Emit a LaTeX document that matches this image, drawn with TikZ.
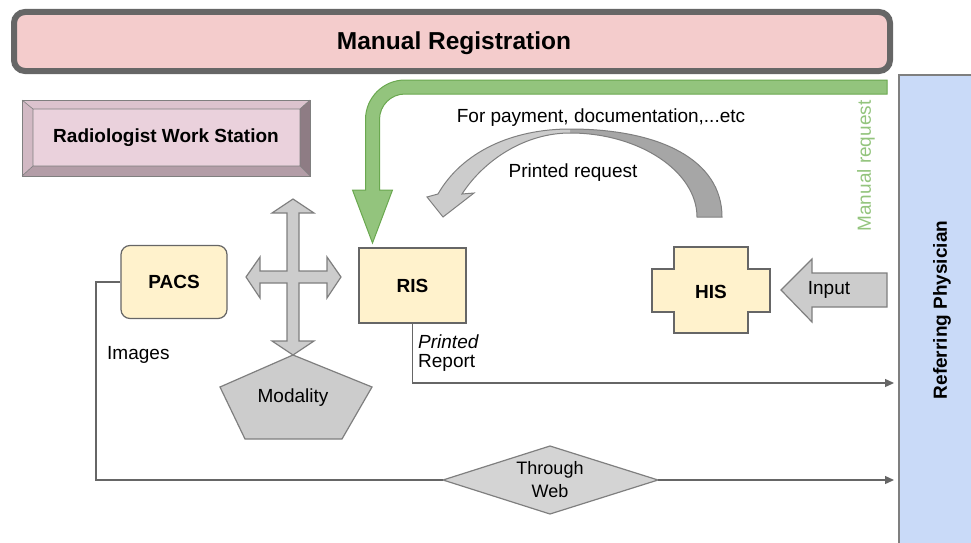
\documentclass[tikz,border=0pt]{standalone}
\usepackage{fontspec}
\setmainfont{Liberation Sans}
\usetikzlibrary{arrows.meta}
\definecolor{regfill}{HTML}{F4CCCC}
\definecolor{regdraw}{HTML}{666666}
\definecolor{yellowbox}{HTML}{FFF2CC}
\definecolor{boxline}{HTML}{666666}
\definecolor{greyfill}{HTML}{CCCCCC}
\definecolor{greydark}{HTML}{A6A6A6}
\definecolor{greyline}{HTML}{7F7F7F}
\definecolor{pinkin}{HTML}{EAD1DC}
\definecolor{pinktop}{HTML}{DCC3CE}
\definecolor{pinkleft}{HTML}{D2B9C4}
\definecolor{pinkright}{HTML}{8E7C84}
\definecolor{pinkbottom}{HTML}{B39DA7}
\definecolor{bluefill}{HTML}{C9DAF8}
\definecolor{greenfill}{HTML}{93C47D}
\definecolor{greendraw}{HTML}{6AA84F}
\definecolor{lineclr}{HTML}{666666}
\tikzset{
  lbl/.style={font=\fontsize{19}{22}\selectfont, inner sep=0pt},
  blbl/.style={font=\fontsize{19}{22}\selectfont\bfseries, inner sep=0pt},
  ybox/.style={fill=yellowbox, draw=boxline, line width=1.2pt},
  gshape/.style={fill=greyfill, draw=greyline, line width=1.2pt},
  conn/.style={draw=lineclr, line width=1.3pt, -{Triangle[length=9pt,width=8pt]}},
  plainline/.style={draw=lineclr, line width=1.3pt}
}
\begin{document}
\begin{tikzpicture}[x=1pt,y=-1pt]
\useasboundingbox (0,0) rectangle (971,543);
\clip (0,0) rectangle (971,543);

% Referring Physician panel
\draw[fill=bluefill, draw=greyline, line width=1.2pt] (899,75) rectangle (985,560);
\node[blbl, rotate=90] (refphys) at (942,310) {Referring Physician};

% Manual Registration
\draw[fill=regfill, draw=regdraw, line width=6pt, rounded corners=11pt] (14,12) rectangle (890,71);
\node[font=\fontsize{24.5}{27}\selectfont\bfseries, inner sep=0pt] (manreg) at (454,43) {Manual Registration};

% Radiologist Work Station (bevel)
\fill[pinktop] (22,100) -- (310,100) -- (300,109) -- (33,109) -- cycle;
\fill[pinkleft] (22,100) -- (33,109) -- (33,166) -- (22,176) -- cycle;
\fill[pinkright] (310,100) -- (310,176) -- (300,166) -- (300,109) -- cycle;
\fill[pinkbottom] (22,176) -- (310,176) -- (300,166) -- (33,166) -- cycle;
\fill[pinkin] (33,109) rectangle (300,166);
\draw[greyline, line width=0.8pt] (22,100) rectangle (310,176);
\draw[greyline, line width=0.6pt] (33,109) rectangle (300,166)
  (22,100) -- (33,109) (310,100) -- (300,109) (22,176) -- (33,166) (310,176) -- (300,166);
\node[blbl] (rws) at (166,138) {Radiologist Work Station};

% Green manual request arrow
\draw[fill=greenfill, draw=greendraw, line width=1pt]
  (887,80) -- (405,80) .. controls (383.2,80) and (365.5,97.7) .. (365.5,119.5)
  -- (365.5,190) -- (352.5,190) -- (372.5,243) -- (392.5,190) -- (379.5,190)
  -- (379.5,119.5) .. controls (379.5,105.4) and (390.9,94) .. (405,94) -- (887,94) -- cycle;
\node[lbl, rotate=90, text=greenfill] (manreq) at (866,166) {Manual request};

% Curved printed-request arrow
\fill[greydark] (570,129) .. controls (660,129) and (722,160) .. (722,217)
  -- (697,217) .. controls (697,172) and (640,133) .. (570,133) -- cycle;
\fill[greyfill] (570,129) .. controls (512,129) and (462,152) .. (438,194)
  -- (427,197) -- (443,217) -- (474,193) -- (462,194)
  .. controls (484,160) and (525,133) .. (570,133) -- cycle;
\draw[greyline, line width=1pt] (570,129) .. controls (660,129) and (722,160) .. (722,217)
  -- (697,217) .. controls (697,172) and (640,133) .. (570,133)
  .. controls (525,133) and (484,160) .. (462,194) -- (474,193) -- (443,217) -- (427,197) -- (438,194)
  .. controls (462,152) and (512,129) .. (570,129) -- cycle;
\node[lbl] (forpay) at (601,118) {For payment, documentation,...etc};
\node[lbl] (printreq) at (573,173) {Printed request};

% PACS
\node[ybox, rounded corners=9pt, minimum width=106pt, minimum height=73pt, inner sep=0pt,
      font=\fontsize{19}{22}\selectfont\bfseries] (pacs) at (174,282) {PACS};

% RIS
\node[ybox, minimum width=107pt, minimum height=75pt, inner sep=0pt,
      font=\fontsize{19}{22}\selectfont\bfseries] (ris) at (412.5,285.5) {RIS};

% HIS cross shape
\draw[ybox] (674,247) -- (748,247) -- (748,269) -- (770,269) -- (770,312) -- (748,312)
  -- (748,333) -- (674,333) -- (674,312) -- (652,312) -- (652,269) -- (674,269) -- cycle;
\node[blbl] (his) at (711,292) {HIS};

% Input arrow
\draw[gshape] (887,273) -- (812,273) -- (812,259) -- (781,290) -- (812,322) -- (812,307) -- (887,307) -- cycle;
\node[lbl] (input) at (829,290) {Input};

% Four-way arrow
\draw[gshape] (293,199) -- (314,213) -- (299,213) -- (299,271) -- (327,271) -- (327,257)
  -- (341,277) -- (327,298) -- (327,283) -- (299,283) -- (299,341) -- (314,341)
  -- (293,355) -- (272,341) -- (287,341) -- (287,283) -- (260,283) -- (260,298)
  -- (246,277) -- (260,257) -- (260,271) -- (287,271) -- (287,213) -- (272,213) -- cycle;

% Modality pentagon
\draw[gshape] (293,355) -- (372,387) -- (342,439) -- (245,439) -- (220,387) -- cycle;
\node[lbl] (modality) at (293,398) {Modality};

% Through Web diamond
\draw[gshape, fill=greyfill!85] (443,480) -- (550,446) -- (658,480) -- (550,514) -- cycle;
\node[lbl, align=center, font=\fontsize{18}{23}\selectfont] (web) at (550,480) {Through\\Web};

% Connectors
\coordinate (repend) at (894,383);
\coordinate (webend) at (894,480);
\draw[conn] (ris.south) |- (repend);
\draw[plainline] (pacs.west) -- (96,282) -- (96,480) -- (443,480);
\draw[conn] (658,480) -- (webend);
\node[lbl, anchor=west] (images) at (107,355) {Images};
\node[lbl, anchor=west] (printed) at (418,342) {\itshape Printed};
\node[lbl, anchor=west] (report) at (418,363) {Report};
\end{tikzpicture}
\end{document}
